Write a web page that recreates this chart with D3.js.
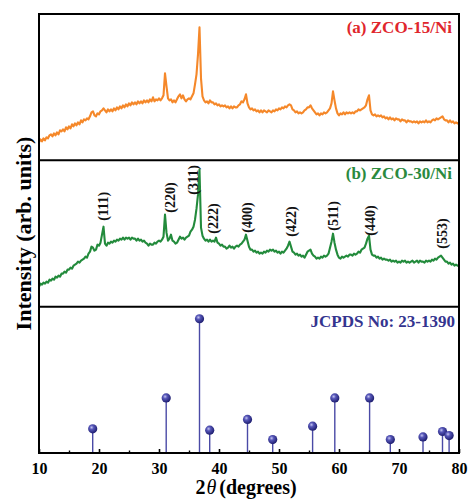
<!DOCTYPE html>
<html>
<head>
<meta charset="utf-8">
<script src="https://cdn.jsdelivr.net/npm/d3@7"></script>
<style>
  html, body { margin: 0; padding: 0; background: #fff; }
  svg { display: block; }
  text { font-family: "Liberation Serif", "Times New Roman", serif; font-weight: bold; }
</style>
</head>
<body>
<div id="chart"></div>
<script>
// ---------------- DATA ----------------
const thetaStart = 10, thetaStep = 0.25;   // 2θ sampling grid of the scans

// (a) ZCO-15/Ni  intensity (arb. units), 2θ = 10 ... 80 every 0.25°
const seriesA = [
18,21,19,22, 20,23,22,25, 26,24,27,25, 28,26,30,29, 31,29,33,31,
34,32,36,34, 37,35,38,36, 40,38,41,40, 42,41,44,48, 49,45,44,47,
46,49,50,52, 50,48,51,49, 51,49,52,50, 53,51,54,52, 55,53,56,54,
57,55,58,56, 58,56,59,57, 59,57,60,58, 60,58,61,59, 63,59,61,60,
62,60,62,65, 87,74,62,60, 61,58,60,58, 61,64,66,62, 65,61,59,61,
62,61,64,67, 76,86,106,133, 82,64,60,58, 59,57,60,58, 58,56,57,55,
56,54,55,54, 55,53,54,52, 54,52,54,53, 53,55,56,59, 58,61,66,57,
53,51,52,50, 51,49,50,48, 50,48,50,49, 48,50,49,48, 50,49,51,50,
52,51,53,52, 54,53,55,56, 55,51,50,48, 49,47,48,47, 48,50,51,53,
53,55,52,50, 48,46,47,45, 47,46,48,47, 48,50,52,57, 69,60,52,47,
45,47,46,48, 46,48,47,48, 47,48,47,49, 49,51,50,51, 52,53,55,61,
65,50,46,45, 46,44,45,44, 45,43,44,42, 43,41,43,41, 42,40,42,41,
41,39,41,40, 40,38,40,39, 39,38,39,38, 39,37,39,38, 39,38,40,38,
39,38,40,41, 40,42,41,42, 43,44,41,40, 40,38,40,38, 39,37,38,37,
38
];

// (b) ZCO-30/Ni  intensity (arb. units), same grid
const seriesB = [
20,23,22,24, 23,25,24,27, 26,28,27,30, 29,31,30,33, 33,35,34,37,
37,39,38,41, 42,43,45,44, 46,47,48,50, 49,53,55,60, 59,56,57,62,
61,64,72,80, 63,61,64,63, 65,64,66,65, 67,66,68,67, 69,67,69,68,
69,67,69,68, 68,66,68,66, 67,65,66,64, 63,61,63,62, 62,64,63,65,
66,65,67,70, 92,74,66,68, 72,66,65,63, 64,67,70,68, 69,67,69,70,
71,75,77,80, 87,98,112,137, 79,71,68,66, 67,65,67,65, 66,65,69,64,
63,61,62,60, 60,58,59,61, 59,60,58,60, 61,60,62,63, 65,67,72,66,
60,57,57,55, 56,54,55,53, 54,53,55,54, 56,55,57,56, 57,55,56,54,
55,53,55,54, 56,58,61,65, 60,55,54,52, 53,51,52,50, 51,49,52,55,
56,57,53,51, 50,48,49,48, 50,49,51,50, 51,53,59,65, 73,64,57,52,
49,48,50,49, 50,51,50,52, 52,51,53,52, 53,55,54,57, 58,59,63,68,
71,57,52,51, 51,49,50,48, 49,47,48,47, 47,46,47,45, 46,45,46,44,
45,44,46,45, 46,44,45,44, 45,46,44,45, 46,44,46,45, 45,44,46,45,
46,45,47,46, 48,47,49,50, 51,49,47,45, 45,43,44,42, 43,41,42,41,
41
];

// Miller indices marked on (b): label, 2θ, intensity level of label foot
const hklLabels = ["(111)", "(220)", "(311)", "(222)", "(400)", "(422)", "(511)", "(440)", "(553)"];
const hklTheta  = [20.7, 31.8, 35.7, 39.05, 44.6, 51.95, 58.95, 65.15, 77.1];
const hklLevel  = [86, 94, 112, 73, 74, 70, 76, 71, 58];

// JCPDS 23-1390 reference pattern
const jcpdsTheta = [18.95, 31.2, 36.75, 38.45, 44.75, 48.95, 55.6, 59.3, 65.1, 68.55, 74.0, 77.25, 78.35];
const jcpdsInt   = [18, 41, 100, 17, 25, 10, 20, 41, 41, 10, 12, 16, 13];

const xMajorTicks = [10, 20, 30, 40, 50, 60, 70, 80];
const xMinorTicks = [15, 25, 35, 45, 55, 65, 75];
const panelTitles = ["(a) ZCO-15/Ni", "(b) ZCO-30/Ni", "JCPDS No: 23-1390"];

// ---------------- DRAW ----------------
const W = 468, H = 500;
const L = 39, R = 459, T = 14, B = 453;
const ph = (B - T) / 3;

const svg = d3.select("#chart").append("svg").attr("width", W).attr("height", H);

const x = d3.scaleLinear().domain([10, 80]).range([L, R]);
const yA = d3.scaleLinear().domain([0, ph]).range([T + ph, T]);
const yB = d3.scaleLinear().domain([0, ph]).range([T + 2 * ph, T + ph]);
const yC = d3.scaleLinear().domain([0, 109]).range([B, T + 2 * ph]);

const defs = svg.append("defs");
[0, 1].forEach(i => {
  defs.append("clipPath").attr("id", "clip" + i)
    .append("rect").attr("x", L).attr("y", T + i * ph).attr("width", R - L).attr("height", ph);
});
const grad = defs.append("radialGradient").attr("id", "ball")
  .attr("cx", "38%").attr("cy", "35%").attr("r", "65%");
grad.append("stop").attr("offset", "0%").attr("stop-color", "#c4c4f0");
grad.append("stop").attr("offset", "35%").attr("stop-color", "#5656b8");
grad.append("stop").attr("offset", "100%").attr("stop-color", "#1e1e70");

const tt = i => thetaStart + i * thetaStep;

// (a)
svg.append("path").datum(seriesA)
  .attr("clip-path", "url(#clip0)")
  .attr("fill", "none").attr("stroke", "#f5882a").attr("stroke-width", 2.1)
  .attr("stroke-linejoin", "round")
  .attr("d", d3.line().x((d, i) => x(tt(i))).y(d => yA(d)));

// (b)
svg.append("path").datum(seriesB)
  .attr("clip-path", "url(#clip1)")
  .attr("fill", "none").attr("stroke", "#238b3c").attr("stroke-width", 2.1)
  .attr("stroke-linejoin", "round")
  .attr("d", d3.line().x((d, i) => x(tt(i))).y(d => yB(d)));

// hkl labels
svg.append("g").selectAll("text").data(hklLabels).join("text")
  .attr("transform", (d, i) => `translate(${x(hklTheta[i])},${yB(hklLevel[i])}) rotate(-90)`)
  .attr("dy", "0.35em")
  .attr("font-size", 14)
  .attr("fill", "#111")
  .text(d => d);

// (c) stick pattern
const sticks = svg.append("g");
sticks.selectAll("line").data(jcpdsInt).join("line")
  .attr("x1", (d, i) => x(jcpdsTheta[i])).attr("x2", (d, i) => x(jcpdsTheta[i]))
  .attr("y1", yC(0)).attr("y2", d => yC(d))
  .attr("stroke", "#4a4aa6").attr("stroke-width", 1.4);
sticks.selectAll("circle").data(jcpdsInt).join("circle")
  .attr("cx", (d, i) => x(jcpdsTheta[i])).attr("cy", d => yC(d))
  .attr("r", 4.6).attr("fill", "url(#ball)");

// panel titles
const titleColors = ["#e0262c", "#2a8a3e", "#34348f"];
const titleY = [T + 19, T + ph + 19, T + 2 * ph + 20];
svg.append("g").selectAll("text").data(panelTitles).join("text")
  .attr("x", (d, i) => i === 2 ? R - 4 : R - 7)
  .attr("y", (d, i) => titleY[i])
  .attr("text-anchor", "end")
  .attr("font-size", 17)
  .attr("fill", (d, i) => titleColors[i])
  .text(d => d);

// x axis
const axMaj = svg.append("g").attr("transform", `translate(0,${B})`)
  .call(d3.axisBottom(x).tickValues(xMajorTicks).tickSize(-4).tickPadding(10).tickFormat(d3.format("d")));
axMaj.select(".domain").remove();
axMaj.selectAll("line").attr("stroke", "#000").attr("stroke-width", 1.6);
axMaj.selectAll("text").attr("font-size", 16).attr("fill", "#000")
  .style("font-family", '"Liberation Serif", "Times New Roman", serif').style("font-weight", "bold");
const axMin = svg.append("g").attr("transform", `translate(0,${B})`)
  .call(d3.axisBottom(x).tickValues(xMinorTicks).tickSize(-2.5).tickFormat(""));
axMin.select(".domain").remove();
axMin.selectAll("line").attr("stroke", "#000").attr("stroke-width", 1.4);

// frame and separators
svg.append("rect").attr("x", L).attr("y", T).attr("width", R - L).attr("height", B - T)
  .attr("fill", "none").attr("stroke", "#000").attr("stroke-width", 2);
[1, 2].forEach(k => {
  svg.append("line").attr("x1", L).attr("x2", R)
    .attr("y1", T + k * ph).attr("y2", T + k * ph)
    .attr("stroke", "#000").attr("stroke-width", 2);
});

// axis titles
const xt = svg.append("text").attr("x", (L + R) / 2 - 3).attr("y", 494)
  .attr("text-anchor", "middle").attr("font-size", 20).attr("fill", "#000");
xt.append("tspan").text("2");
xt.append("tspan").attr("font-style", "italic").attr("font-weight", "normal").attr("dx", 1).text("θ");
xt.append("tspan").attr("dx", 3).text("(degrees)");

svg.append("text").attr("transform", `translate(31,${(T + B) / 2}) rotate(-90)`)
  .attr("text-anchor", "middle").attr("font-size", 22).attr("fill", "#000")
  .text("Intensity (arb. units)");
</script>
</body>
</html>
